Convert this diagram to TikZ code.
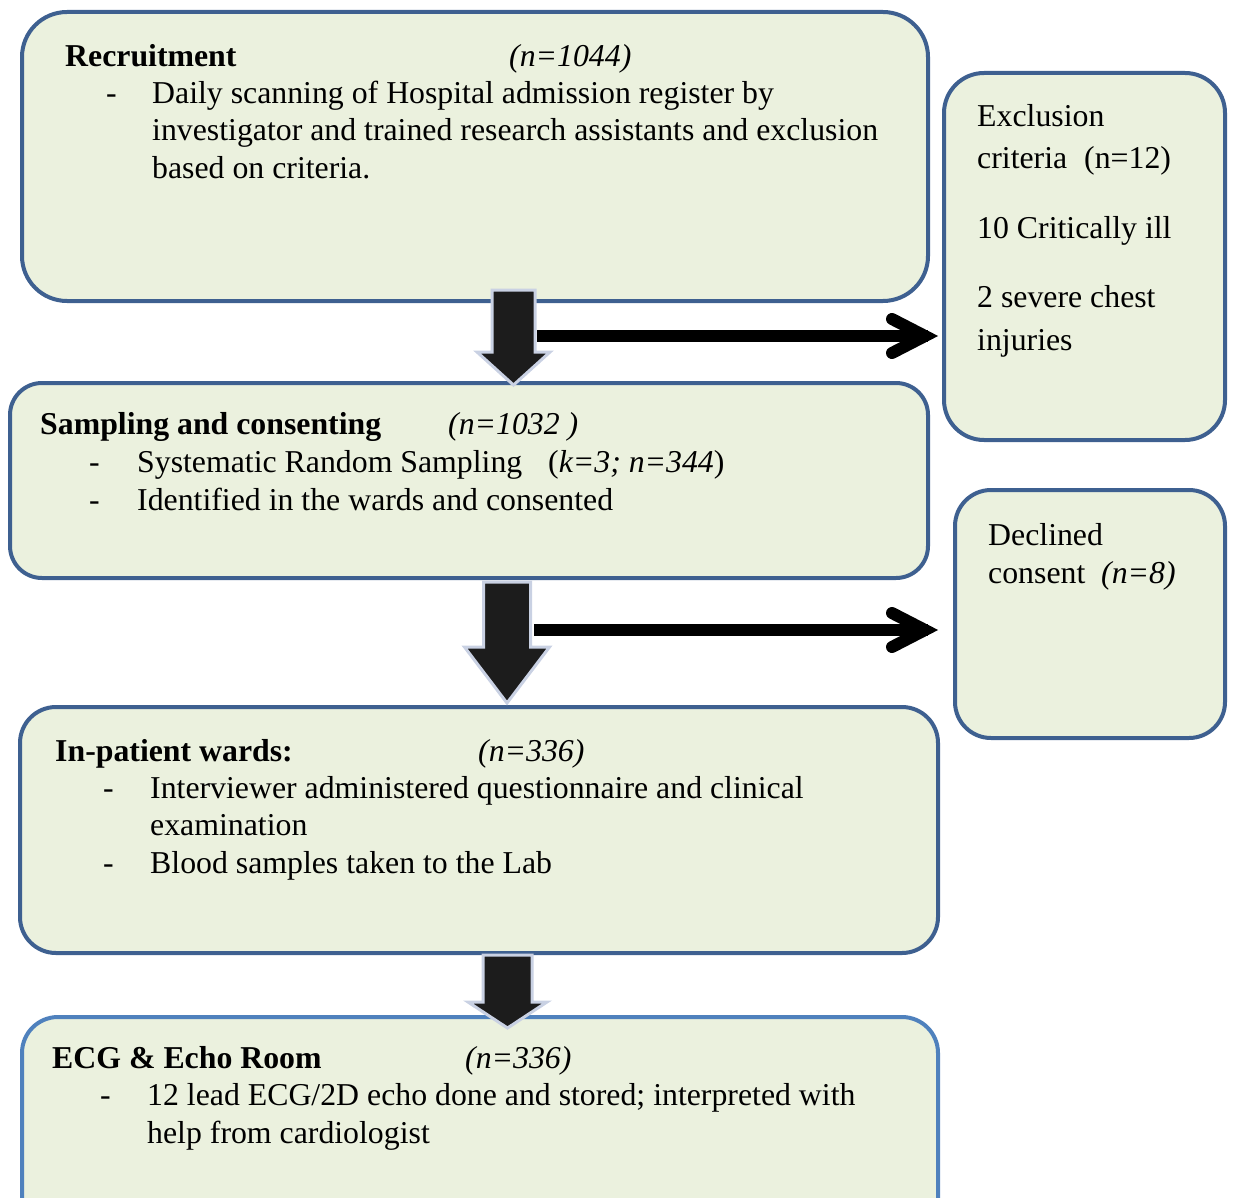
\documentclass[tikz,border=0pt]{standalone}
\usepackage{fontspec}
\setmainfont{Liberation Serif}
\usetikzlibrary{calc}
\definecolor{boxfill}{RGB}{235,241,222}
\definecolor{boxline}{RGB}{62,96,144}
\definecolor{boxlinelight}{RGB}{79,129,189}
\definecolor{arrowfill}{RGB}{28,28,28}
\definecolor{arrowline}{RGB}{201,209,227}
\tikzset{
  stage/.style={draw=boxline, fill=boxfill, line width=4pt, rounded corners=#1, inner sep=0pt},
  stage/.default=40pt,
  txt/.style={anchor=base west, inner sep=0pt, font=\fontsize{31.8}{37.5}\selectfont},
  blk/.style={fill=arrowfill, draw=arrowline, line width=3pt, line join=miter},
  thin/.style={line width=12pt, draw=black},
  chev/.style={line width=12pt, draw=black, line cap=round, line join=miter},
}
% #1 centre x, #2 shaft half width, #3 top, #4 head y, #5 head half width, #6 tip y
\newcommand\blkarrow[6]{%
  \draw[blk] (#1-#2,#3) -- (#1+#2,#3) -- (#1+#2,#4) -- (#1+#5,#4) -- (#1,#6) -- (#1-#5,#4) -- (#1-#2,#4) -- cycle;}
\begin{document}
\begin{tikzpicture}[x=1pt,y=-1pt]
\useasboundingbox (0,0) rectangle (1233,1198);
% boxes
\node[stage=45pt, minimum width=906pt, minimum height=289pt] (recr) at (475,156.5) {};
\node[stage=40pt, minimum width=281pt, minimum height=367pt] (excl) at (1084.5,256.5) {};
\node[stage=32pt, minimum width=918pt, minimum height=195pt] (samp) at (469,480.5) {};
\node[stage=36pt, minimum width=270pt, minimum height=248pt] (decl) at (1090,614) {};
\node[stage=36pt, minimum width=918pt, minimum height=246pt] (ward) at (479,830) {};
\node[stage=36pt, draw=boxlinelight, minimum width=916pt, minimum height=243pt] (ecg) at (480,1138.5) {};
% block arrows
\blkarrow{513.5}{21.5}{290}{352}{36.5}{385}
\blkarrow{507}{23.5}{582}{647}{42.5}{703}
\blkarrow{507.5}{24.5}{955}{1002}{39.5}{1028}
% side arrows
\coordinate (s1) at (537,336);
\coordinate (e1) at (excl.west |- s1);
\draw[thin] (s1) -- ($(e1)+(-14,0)$);
\draw[chev] ($(e1)+(-50,-17)$) -- ($(e1)+(-17,0)$) -- ($(e1)+(-50,17)$);
\coordinate (s2) at (534,630);
\coordinate (e2) at (excl.west |- s2);
\draw[thin] (s2) -- ($(e2)+(-14,0)$);
\draw[chev] ($(e2)+(-50,-17)$) -- ($(e2)+(-17,0)$) -- ($(e2)+(-50,17)$);
\begin{scope}[shift={(0,2)}]
% texts: recruitment
\node[txt] (t1a) at (65,65) {\textbf{Recruitment}};
\node[txt] (t1b) at (509,65) {\textit{(n=1044)}};
\node[txt] (t1c) at (106,101.5) {-};
\node[txt] (t1d) at (152,101.5) {Daily scanning of Hospital admission register by};
\node[txt] (t1e) at (152,139) {investigator and trained research assistants and exclusion};
\node[txt] (t1f) at (152,176.5) {based on criteria.};
% exclusion
\node[txt] (t2a) at (977,125) {Exclusion};
\node[txt] (t2b) at (977,167) {criteria};
\node[txt] (t2bb) at (1084,167) {(n=12)};
\node[txt] (t2c) at (977,237) {10 Critically ill};
\node[txt] (t2d) at (977,305) {2 severe chest};
\node[txt] (t2e) at (977,348) {injuries};
% sampling
\node[txt] (t3a) at (40,432) {\textbf{Sampling and consenting}};
\node[txt] (t3b) at (448,432) {\textit{(n=1032 )}};
\node[txt] (t3c) at (89,470) {-};
\node[txt] (t3d) at (137,470) {Systematic Random Sampling};
\node[txt] (t3dd) at (548,470) {(\textit{k=3; n=344})};
\node[txt] (t3e) at (89,508) {-};
\node[txt] (t3f) at (137,508) {Identified in the wards and consented};
% declined
\node[txt] (t4a) at (988,543) {Declined};
\node[txt] (t4b) at (988,581) {consent};
\node[txt] (t4bb) at (1101,581) {\textit{(n=8)}};
% wards
\node[txt] (t5a) at (55,759) {\textbf{In-patient wards:}};
\node[txt] (t5b) at (478,759) {\textit{(n=336)}};
\node[txt] (t5c) at (103,796) {-};
\node[txt] (t5d) at (150,796) {Interviewer administered questionnaire and clinical};
\node[txt] (t5e) at (150,833) {examination};
\node[txt] (t5f) at (103,871) {-};
\node[txt] (t5g) at (150,871) {Blood samples taken to the Lab};
% ecg
\node[txt] (t6a) at (52,1066) {\textbf{ECG \& Echo Room}};
\node[txt] (t6b) at (465,1066) {\textit{(n=336)}};
\node[txt] (t6c) at (100,1103) {-};
\node[txt] (t6d) at (147,1103) {12 lead ECG/2D echo done and stored; interpreted with};
\node[txt] (t6e) at (147,1141) {help from cardiologist};
\end{scope}
\end{tikzpicture}
\end{document}
